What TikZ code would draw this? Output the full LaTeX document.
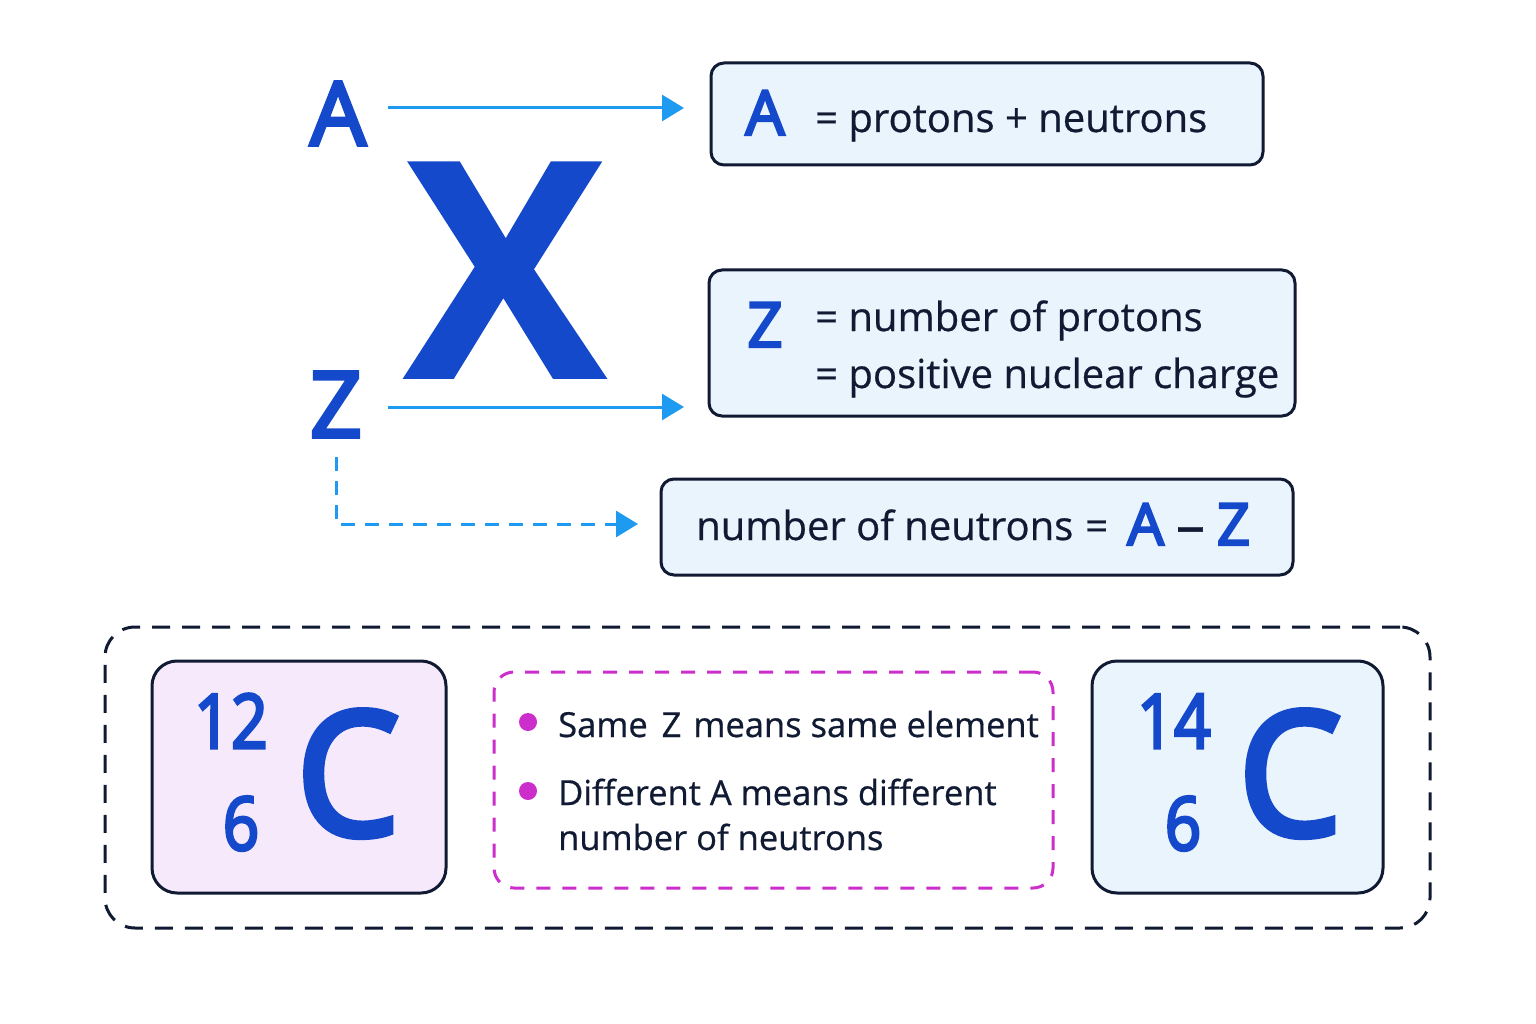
\documentclass[tikz,border=0pt]{standalone}
\usepackage{fontspec}
\setmainfont{Open Sans}[FakeBold=0.6]
\newfontfamily\medfont{Open Sans}[FakeBold=4]
\newfontfamily\txtfont{Open Sans}[FakeBold=0.6]
\newfontfamily\xfont{Open Sans Bold}
\usetikzlibrary{arrows.meta}
\definecolor{navy}{HTML}{111A33}
\definecolor{royal}{HTML}{1449CC}
\definecolor{sky}{HTML}{1E9BF0}
\definecolor{mag}{HTML}{CC2ECC}
\definecolor{boxblue}{HTML}{EAF4FD}
\definecolor{boxlav}{HTML}{F5E9FB}
\newcommand\fsz[1]{\fontsize{#1}{#1}\selectfont}
\newcommand\narrow[1]{\scalebox{0.86}[1]{#1}}
\begin{document}
\begin{tikzpicture}[x=1pt,y=-1pt,
  box/.style={draw=navy, line width=3pt, rounded corners=13pt, fill=boxblue, inner sep=0pt},
  txt/.style={text=navy, inner sep=0pt, anchor=base west, font=\txtfont\fsz{40}},
  btxt/.style={text=navy, inner sep=0pt, anchor=base west, font=\txtfont\fsz{34.5}},
  sym/.style={text=royal, inner sep=0pt, anchor=base, font=\medfont\fsz{#1}},
  arr/.style={sky, line width=3pt, -{Triangle[length=22pt,width=26pt]}},
  darr/.style={sky, line width=3pt, dash pattern=on 14pt off 10pt, -{Triangle[length=22pt,width=26pt]}},
  bullet/.style={circle, fill=mag, inner sep=0pt, minimum size=18pt}
]
\useasboundingbox[fill=white] (0,0) rectangle (1536,1024);

% symbol
\node[sym=88] (Alab) at (338,145) {A};
\node[sym=308, font=\bfseries\fsz{302}] (Xlab) at (505,378) {X};
\node[sym=91] (Zlab) at (336,437) {Z};

% boxes
\node[box, minimum width=552pt, minimum height=102pt] (boxA) at (987,114) {};
\node[box, minimum width=586pt, minimum height=146pt] (boxZ) at (1002,343) {};
\node[box, minimum width=632pt, minimum height=96pt] (boxN) at (977,527) {};

\node[sym=62] (bA) at (765,135) {A};
\node[txt] (tA) at (815,132) {= protons + neutrons};
\node[sym=62] (bZ) at (765,347) {Z};
\node[txt] (tZ1) at (815,331) {= number of protons};
\node[txt] (tZ2) at (815,388) {= positive nuclear charge};
\node[txt] (tN) at (696,540) {number of neutrons\hspace{12pt}=};
\node[sym=58, anchor=base west] (tAZ) at (1127,545) {A\hspace{12pt}\textcolor{navy}{\txtfont\fsz{58}–}\hspace{12pt}Z};

% arrows
\coordinate (a1) at (388,108);
\coordinate (a2) at (684,108);
\coordinate (z1) at (388,407);
\coordinate (z2) at (684,407);
\coordinate (d1) at (336,457);
\coordinate (d2) at (336,524);
\coordinate (d3) at (638,524);
\draw[arr] (a1) -- (a2);
\draw[arr] (z1) -- (z2);
\draw[darr] (d1) -- (d2) -- (d3);

% bottom
\node[draw=navy, line width=3pt, dash pattern=on 18pt off 12pt, rounded corners=30pt,
      minimum width=1325pt, minimum height=301pt, inner sep=0pt] (outer) at (767.5,777.5) {};
\node[box, fill=boxlav, rounded corners=25pt, minimum width=294pt, minimum height=232pt] (c12) at (299,777) {};
\node[box, rounded corners=25pt, minimum width=291pt, minimum height=232pt] (c14) at (1237.5,777) {};
\node[draw=mag, line width=3pt, dash pattern=on 14pt off 12pt, rounded corners=20pt,
      minimum width=559pt, minimum height=216pt, inner sep=0pt] (mbox) at (773.5,780) {};

\node[sym=75] (n12) at (231,748) {\narrow{12}};
\node[sym=74] (n6a) at (241,850) {\narrow{6}};
\node[sym=172] (C1) at (348,835) {\scalebox{0.95}[1]{C}};
\node[sym=75] (n14) at (1174,748) {\narrow{14}};
\node[sym=74] (n6b) at (1183,850) {\narrow{6}};
\node[sym=172] (C2) at (1290,835) {\scalebox{0.95}[1]{C}};

\node[bullet] (b1) at (528,722) {};
\node[bullet] (b2) at (528,791) {};
\node[btxt] (s1) at (558,737) {Same\hspace{5pt} Z\hspace{3pt} means same element};
\node[btxt] (s2) at (558,805) {Different A means different};
\node[btxt] (s3) at (558,850) {number of neutrons};
\end{tikzpicture}
\end{document}
